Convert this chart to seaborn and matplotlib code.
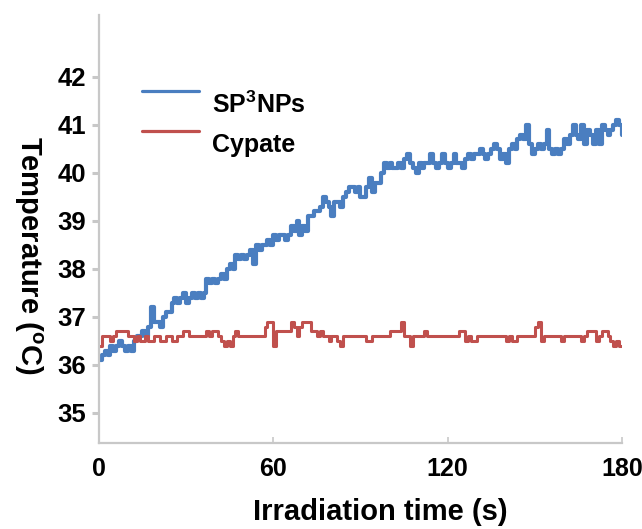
import numpy as np
import pandas as pd
import matplotlib
matplotlib.use('Agg')
import matplotlib.pyplot as plt
import seaborn as sns

# ── Data (1 s sampling) ──────────────────────────────────────────────────────
time_s = list(range(0, 181))

sp3_nps = [
    36.1, 36.2, 36.3, 36.2, 36.4, 36.3, 36.4, 36.5, 36.4, 36.3,
    36.4, 36.3, 36.5, 36.6, 36.6, 36.7, 36.6, 36.8, 37.2, 36.9,
    36.9, 36.8, 37.0, 37.1, 37.1, 37.3, 37.4, 37.3, 37.4, 37.5,
    37.3, 37.4, 37.5, 37.4, 37.5, 37.4, 37.5, 37.8, 37.7, 37.8,
    37.7, 37.8, 37.9, 37.8, 38.0, 38.1, 38.0, 38.3, 38.2, 38.3,
    38.2, 38.3, 38.4, 38.1, 38.5, 38.4, 38.5, 38.5, 38.6, 38.5,
    38.7, 38.6, 38.7, 38.7, 38.6, 38.7, 38.9, 38.8, 39.0, 38.7,
    38.9, 38.8, 39.1, 39.1, 39.2, 39.2, 39.3, 39.5, 39.4, 39.3,
    39.1, 39.4, 39.4, 39.3, 39.5, 39.6, 39.7, 39.7, 39.6, 39.7,
    39.5, 39.5, 39.7, 39.9, 39.6, 39.8, 39.8, 40.0, 40.2, 40.1,
    40.2, 40.1, 40.1, 40.2, 40.1, 40.3, 40.4, 40.2, 40.1, 40.0,
    40.2, 40.1, 40.2, 40.2, 40.4, 40.2, 40.1, 40.2, 40.4, 40.2,
    40.1, 40.2, 40.4, 40.2, 40.2, 40.1, 40.3, 40.4, 40.3, 40.4,
    40.4, 40.5, 40.4, 40.3, 40.4, 40.5, 40.6, 40.5, 40.3, 40.4,
    40.2, 40.5, 40.6, 40.5, 40.7, 40.8, 40.7, 41.0, 40.6, 40.4,
    40.5, 40.6, 40.5, 40.6, 40.9, 40.5, 40.4, 40.5, 40.4, 40.5,
    40.7, 40.6, 40.8, 41.0, 40.8, 40.7, 41.0, 40.6, 40.9, 40.8,
    40.6, 40.9, 40.6, 41.0, 40.9, 40.8, 40.9, 41.0, 41.1, 41.0,
    40.8,
]

cypate = [
    36.4, 36.6, 36.6, 36.6, 36.5, 36.6, 36.7, 36.7, 36.7, 36.7,
    36.6, 36.6, 36.5, 36.6, 36.5, 36.5, 36.6, 36.5, 36.5, 36.6,
    36.6, 36.5, 36.5, 36.6, 36.6, 36.5, 36.5, 36.6, 36.6, 36.7,
    36.7, 36.6, 36.6, 36.6, 36.6, 36.6, 36.6, 36.7, 36.6, 36.7,
    36.7, 36.6, 36.5, 36.4, 36.5, 36.4, 36.6, 36.7, 36.6, 36.6,
    36.6, 36.6, 36.6, 36.6, 36.6, 36.6, 36.6, 36.8, 36.9, 36.9,
    36.4, 36.7, 36.7, 36.7, 36.7, 36.7, 36.9, 36.8, 36.6, 36.8,
    36.9, 36.9, 36.9, 36.7, 36.7, 36.6, 36.7, 36.6, 36.6, 36.5,
    36.6, 36.6, 36.5, 36.4, 36.6, 36.6, 36.6, 36.6, 36.6, 36.6,
    36.6, 36.6, 36.5, 36.5, 36.6, 36.6, 36.6, 36.6, 36.6, 36.6,
    36.7, 36.7, 36.7, 36.7, 36.9, 36.6, 36.6, 36.4, 36.6, 36.6,
    36.6, 36.6, 36.7, 36.6, 36.6, 36.6, 36.6, 36.6, 36.6, 36.6,
    36.6, 36.6, 36.6, 36.6, 36.7, 36.7, 36.5, 36.6, 36.5, 36.5,
    36.6, 36.6, 36.6, 36.6, 36.6, 36.6, 36.6, 36.6, 36.6, 36.6,
    36.5, 36.6, 36.5, 36.5, 36.6, 36.6, 36.6, 36.6, 36.6, 36.6,
    36.8, 36.9, 36.5, 36.6, 36.6, 36.6, 36.6, 36.6, 36.6, 36.5,
    36.6, 36.6, 36.6, 36.6, 36.6, 36.6, 36.5, 36.6, 36.7, 36.7,
    36.7, 36.5, 36.6, 36.7, 36.7, 36.6, 36.5, 36.4, 36.5, 36.4,
    36.4,
]

series_names = ['SP$^3$NPs', 'Cypate']
x_ticks = [0, 60, 120, 180]
y_ticks = [35, 36, 37, 38, 39, 40, 41, 42]

BLUE = '#4a7ec0'
RED = '#c0504d'
GREY = '#c8c8c8'

# ── Style ─────────────────────────────────────────────────────────────────────
sns.set_style('white')
plt.rcParams.update({
    'font.family': ['Liberation Sans', 'DejaVu Sans'],
    'font.weight': 'bold',
    'text.color': 'black',
    'axes.labelcolor': 'black',
    'mathtext.fontset': 'custom',
    'mathtext.rm': 'Liberation Sans:bold',
    'mathtext.bf': 'Liberation Sans:bold',
    'mathtext.it': 'Liberation Sans:bold',
    'mathtext.default': 'bf',
})

df = pd.DataFrame({
    'time': time_s * 2,
    'temp': sp3_nps + cypate,
    'sample': [series_names[0]] * len(time_s) + [series_names[1]] * len(time_s),
})

fig = plt.figure(figsize=(6.42, 5.29), dpi=100)
ax = fig.add_axes([0.154, 0.1626, 0.815, 0.809])

sns.lineplot(data=df[df['sample'] == series_names[0]], x='time', y='temp',
             color=BLUE, lw=3.0, drawstyle='steps-post', estimator=None,
             legend=False, ax=ax)
sns.lineplot(data=df[df['sample'] == series_names[1]], x='time', y='temp',
             color=RED, lw=2.2, drawstyle='steps-post', estimator=None,
             legend=False, ax=ax)

ax.set_xlim(0, 180)
ax.set_ylim(34.375, 43.29)
ax.set_xticks(x_ticks)
ax.set_yticks(y_ticks)

for side in ['top', 'right']:
    ax.spines[side].set_visible(False)
for side in ['left', 'bottom']:
    ax.spines[side].set_color(GREY)
    ax.spines[side].set_linewidth(1.6)

ax.tick_params(axis='y', direction='out', length=5, width=2.2, color=GREY,
               labelcolor='black', labelsize=18.5, pad=4)
ax.tick_params(axis='x', direction='in', length=4, width=1.2, color=GREY,
               labelcolor='black', labelsize=18, pad=10)
ax.tick_params(left=True, bottom=True)

ax.set_xlabel('Irradiation time (s)', fontsize=21, fontweight='bold', va='center')
ax.xaxis.set_label_coords(0.537, -0.161)
ax.set_ylabel('Temperature ($^{o}$C)', fontsize=21, fontweight='bold',
              rotation=270, va='center')
ax.yaxis.set_label_coords(-0.136, 0.437)

handles = ax.get_lines()[:2]
leg = ax.legend(handles, series_names, loc='upper left',
                bbox_to_anchor=(0.082, 0.822), frameon=False, fontsize=18,
                handlelength=2.3, handletextpad=0.5, labelspacing=0.62,
                borderpad=0, borderaxespad=0)
for ln in leg.get_lines():
    ln.set_linewidth(2.3)
    ln.set_ydata(np.asarray(ln.get_ydata(), dtype=float) + 9)

fig.savefig('out.png', dpi=100)
